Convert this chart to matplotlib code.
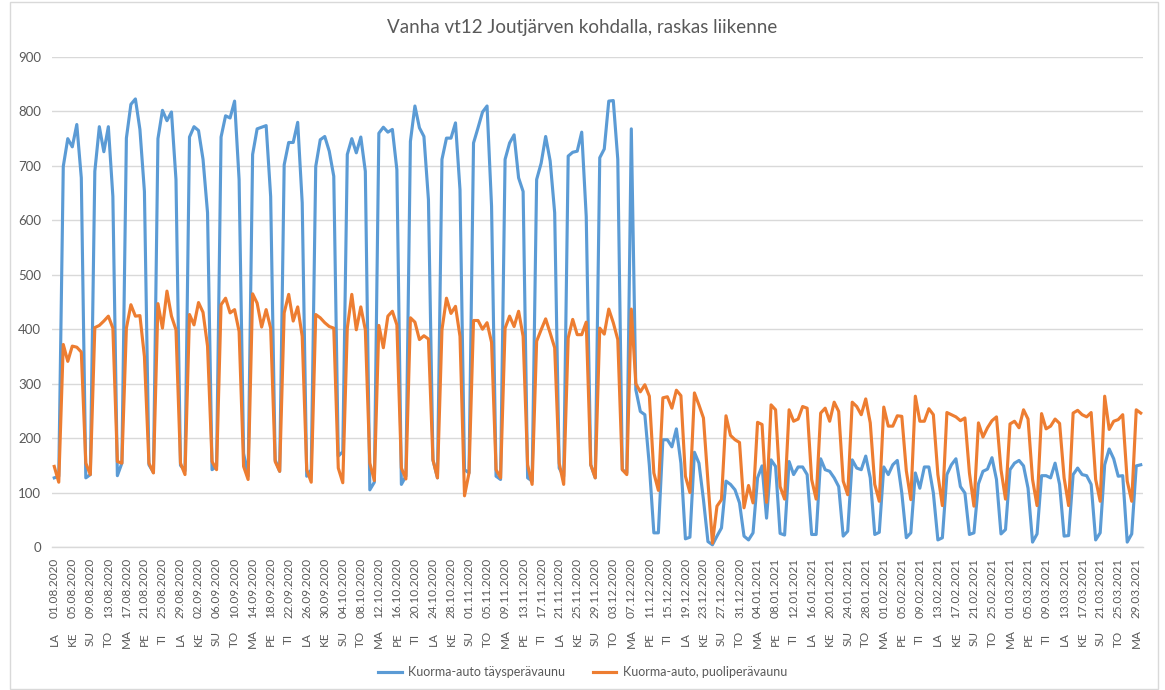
import matplotlib.pyplot as plt
import matplotlib.patches as patches
import pandas as pd

plt.rcParams['font.family'] = ['Lato', 'DejaVu Sans']

# Päivittäiset havainnot 01.08.2020 - 30.03.2021
start_date = '2020-08-01'
weekday_names = ['MA', 'TI', 'KE', 'TO', 'PE', 'LA', 'SU']

full_trailer = [
    127, 130,
    699, 750, 735, 776, 678, 127, 133,
    690, 772, 726, 772, 644, 131, 154,
    751, 813, 823, 767, 653, 151, 137,
    750, 802, 783, 799, 675, 150, 140,
    753, 772, 765, 712, 614, 142, 148,
    753, 792, 788, 819, 675, 172, 130,
    721, 768, 771, 774, 644, 160, 139,
    702, 743, 743, 780, 632, 130, 142,
    699, 748, 754, 727, 681, 167, 175,
    721, 750, 724, 753, 690, 105, 119,
    760, 771, 762, 767, 693, 115, 130,
    745, 810, 770, 754, 638, 160, 127,
    712, 751, 751, 779, 656, 142, 136,
    742, 770, 799, 810, 626, 130, 124,
    712, 742, 757, 678, 653, 127, 121,
    675, 705, 754, 709, 614, 145, 130,
    718, 725, 727, 762, 607, 151, 127,
    715, 731, 819, 820, 712, 142, 136,
    768, 289, 249, 243, 150, 26, 26,
    197, 197, 184, 217, 154, 15, 18,
    174, 154, 87, 10, 4, 20, 35,
    121, 115, 105, 81, 20, 13, 26,
    127, 149, 53, 160, 148, 25, 22,
    157, 133, 147, 147, 133, 23, 23,
    162, 142, 139, 127, 111, 20, 29,
    160, 145, 142, 167, 127, 23, 27,
    147, 133, 151, 159, 99, 17, 26,
    136, 108, 147, 147, 99, 13, 17,
    133, 151, 162, 111, 99, 23, 26,
    116, 139, 143, 164, 124, 24, 32,
    142, 154, 159, 149, 108, 9, 24,
    131, 131, 127, 154, 115, 20, 21,
    133, 145, 133, 131, 115, 13, 26,
    151, 180, 162, 130, 131, 9, 24,
    149, 151,
]

semi_trailer = [
    148, 119,
    372, 341, 369, 367, 358, 154, 133,
    403, 407, 415, 424, 402, 157, 154,
    402, 445, 424, 425, 350, 154, 136,
    447, 402, 470, 424, 399, 154, 133,
    427, 408, 449, 431, 369, 157, 142,
    445, 457, 430, 436, 396, 148, 124,
    465, 448, 404, 436, 402, 157, 139,
    430, 464, 415, 441, 387, 142, 119,
    427, 421, 412, 405, 402, 145, 118,
    402, 464, 399, 441, 399, 154, 122,
    407, 366, 424, 433, 408, 145, 125,
    421, 413, 381, 388, 382, 160, 127,
    399, 457, 429, 442, 387, 94, 136,
    416, 416, 400, 412, 376, 142, 127,
    402, 424, 405, 433, 387, 151, 115,
    378, 399, 419, 393, 366, 154, 115,
    384, 418, 390, 390, 413, 151, 127,
    402, 391, 437, 412, 381, 142, 133,
    437, 300, 285, 298, 277, 136, 104,
    274, 276, 255, 288, 278, 130, 100,
    283, 261, 237, 120, 7, 75, 87,
    241, 205, 197, 192, 72, 113, 81,
    229, 225, 82, 261, 252, 111, 88,
    252, 231, 235, 258, 255, 124, 88,
    246, 255, 231, 266, 249, 121, 96,
    266, 258, 243, 272, 228, 115, 84,
    257, 222, 222, 241, 240, 140, 87,
    277, 231, 231, 254, 243, 133, 76,
    247, 243, 239, 232, 237, 136, 75,
    228, 202, 219, 232, 239, 142, 88,
    226, 231, 219, 252, 235, 124, 76,
    245, 217, 222, 235, 227, 127, 76,
    246, 251, 243, 239, 247, 124, 84,
    277, 216, 231, 234, 243, 121, 84,
    252, 246,
]

dates = pd.date_range(start_date, periods=len(full_trailer), freq='D')
x = list(range(len(dates)))

grey = '#595959'
fig = plt.figure(figsize=(11.65, 6.9), dpi=100)
ax = fig.add_axes([52 / 1165, 1 - 547 / 690, 1091 / 1165, 490 / 690])

ax.plot(x, full_trailer, color='#5B9BD5', lw=2.25, label='Kuorma-auto täysperävaunu')
ax.plot(x, semi_trailer, color='#ED7D31', lw=2.25, label='Kuorma-auto, puoliperävaunu')

ax.set_xlim(-0.5, len(x) - 0.5)
ax.set_ylim(0, 900)
ax.set_yticks(range(0, 901, 100))
ax.tick_params(axis='y', length=0, labelsize=9.5, labelcolor=grey, pad=8)
ax.grid(axis='y', color='#d9d9d9', lw=1.0)
ax.set_axisbelow(True)
for s in ['top', 'right', 'left']:
    ax.spines[s].set_visible(False)
ax.spines['bottom'].set_color('#d9d9d9')
ax.spines['bottom'].set_linewidth(1.0)

# Akselin nimiöt joka neljäs päivä: päivämäärä ja viikonpäivä
ax.set_xticks([])
tr = ax.get_xaxis_transform()
for i in range(0, len(x), 4):
    d = dates[i]
    ax.text(i, -41 / 490, d.strftime('%d.%m.%Y'), rotation=90, ha='center', va='center',
            transform=tr, fontsize=8.5, color=grey)
    ax.text(i, -92 / 490, weekday_names[d.weekday()], rotation=90, ha='center', va='center',
            transform=tr, fontsize=8.5, color=grey)

fig.text(0.5, 1 - 28 / 690, 'Vanha vt12 Joutjärven kohdalla, raskas liikenne',
         ha='center', va='center', fontsize=13.5, color=grey)

fig.legend(loc='center', bbox_to_anchor=(0.5, 18 / 690), ncol=2, frameon=False,
           fontsize=9, labelcolor=grey, handlelength=1.9, handletextpad=0.5,
           columnspacing=2.2)

fig.patches.append(patches.Rectangle((9.5 / 1165, 1 / 690), 1148 / 1165, 687 / 690,
                                     transform=fig.transFigure, fill=False,
                                     edgecolor='#d9d9d9', lw=1.0))

fig.savefig('out.png', dpi=100)
